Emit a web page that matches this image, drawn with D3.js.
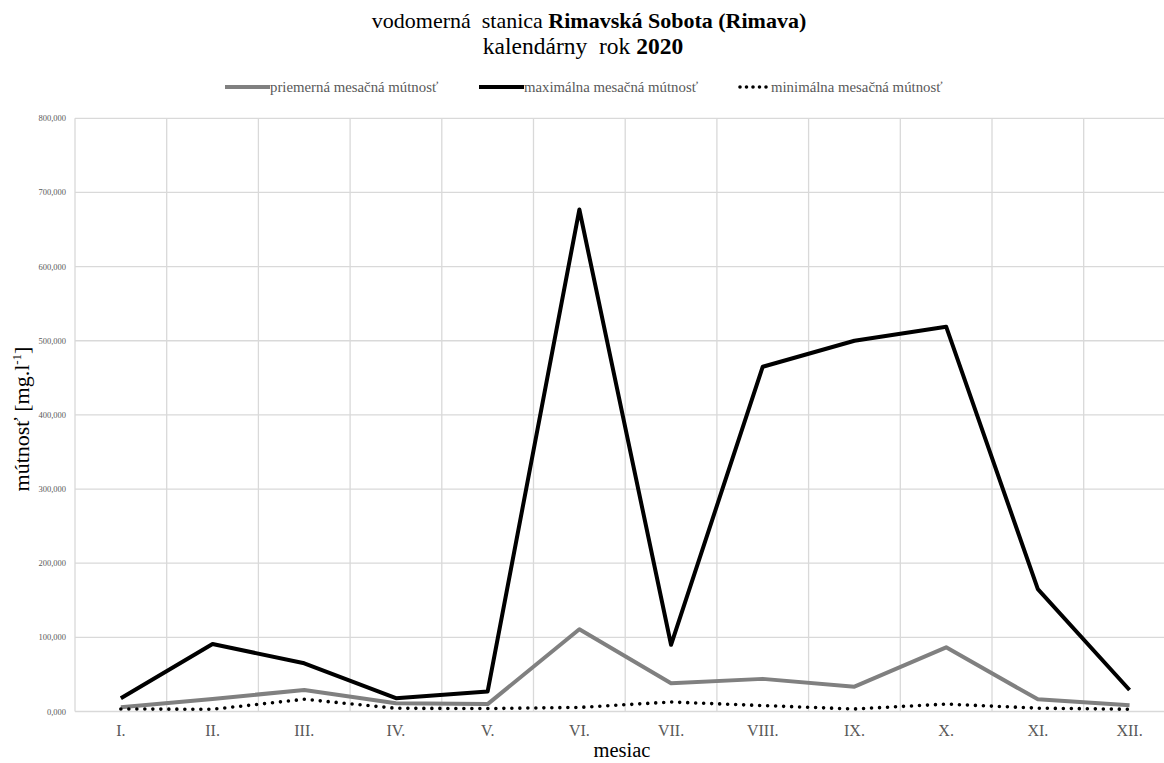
<!DOCTYPE html>
<html><head><meta charset="utf-8">
<script src="https://cdn.jsdelivr.net/npm/d3@7"></script>
<style>body{margin:0;background:#fff}svg{display:block}</style>
</head><body>
<svg id="c" width="1164" height="763"></svg>
<script>
const months = ["I.","II.","III.","IV.","V.","VI.","VII.","VIII.","IX.","X.","XI.","XII."];
const avgValues = [5.6, 17, 29, 11, 10, 111, 38, 44, 33.5, 86.5, 16.4, 8.4];
const maxValues = [18, 91, 65, 18, 27, 677, 90, 465, 500, 519, 165, 29];
const minValues = [3.4, 3, 16.5, 4.3, 4, 5.5, 12.8, 8, 3.4, 10, 4.5, 3];
const yTicks = [0, 100, 200, 300, 400, 500, 600, 700, 800];
const seriesNames = ["priemerná mesačná mútnosť", "maximálna mesačná mútnosť", "minimálna mesačná mútnosť"];

(function(){
const svg = d3.select("#c");
const serif = "'Liberation Serif','Times New Roman',serif";
const pLeft = 75, bandW = 91.7, pTop = 118.3, pBottom = 711.5;
const x = d3.scaleBand().domain(months).range([pLeft, pLeft + bandW * months.length]);
const y = d3.scaleLinear().domain([0, 800]).range([pBottom, pTop]);

// grid
const g = svg.append("g");
g.selectAll("line.h").data(yTicks).join("line")
  .attr("x1", pLeft).attr("x2", 1164).attr("y1", d => y(d)).attr("y2", d => y(d))
  .attr("stroke", "#d9d9d9").attr("stroke-width", 1.3);
const vb = months.map(m => x(m)).concat([x(months[months.length-1]) + x.bandwidth()]);
g.selectAll("line.v").data(vb).join("line")
  .attr("x1", d => d).attr("x2", d => d).attr("y1", pTop).attr("y2", pBottom)
  .attr("stroke", "#d9d9d9").attr("stroke-width", 1.3);

// y tick labels
const fmt = v => d3.format(".3f")(v).replace(".", ",");
svg.append("g").selectAll("text").data(yTicks).join("text")
  .attr("x", 66).attr("y", d => y(d) + 3)
  .attr("text-anchor", "end").attr("font-family", serif).attr("font-size", 8.5)
  .attr("fill", "#595959").text(d => fmt(d));

// x tick labels
svg.append("g").selectAll("text").data(months).join("text")
  .attr("x", d => x(d) + x.bandwidth()/2).attr("y", 736)
  .attr("text-anchor", "middle").attr("font-family", serif).attr("font-size", 16)
  .attr("fill", "#595959").text(d => d);

// lines
const line = d3.line().x((d, i) => x(months[i]) + x.bandwidth()/2).y(d => y(d));
svg.append("path").attr("d", line(avgValues)).attr("fill", "none")
  .attr("stroke", "#808080").attr("stroke-width", 4).attr("stroke-linejoin", "round");
svg.append("path").attr("d", line(maxValues)).attr("fill", "none")
  .attr("stroke", "#000").attr("stroke-width", 4).attr("stroke-linejoin", "round");
svg.append("path").attr("d", line(minValues)).attr("fill", "none")
  .attr("stroke", "#000").attr("stroke-width", 3.6).attr("stroke-linecap", "round")
  .attr("stroke-dasharray", "0 8");

// title
const t1 = svg.append("text").attr("x", 589).attr("y", 28).attr("text-anchor", "middle")
  .attr("font-family", serif).attr("font-size", 22).attr("fill", "#000").style("white-space","pre");
t1.append("tspan").text("vodomerná  stanica ");
t1.append("tspan").attr("font-weight", "bold").text("Rimavská Sobota (Rimava)");
const t2 = svg.append("text").attr("x", 583).attr("y", 54).attr("text-anchor", "middle")
  .attr("font-family", serif).attr("font-size", 23.5).attr("fill", "#000").style("white-space","pre");
t2.append("tspan").text("kalendárny  rok ");
t2.append("tspan").attr("font-weight", "bold").text("2020");

// legend
const legX = [225, 479, 738];
const legStyles = [
  {stroke: "#808080", dash: null, cap: "butt", w: 4},
  {stroke: "#000", dash: null, cap: "butt", w: 4},
  {stroke: "#000", dash: "0 6.5", cap: "round", w: 3.6}
];
const leg = svg.append("g");
seriesNames.forEach((n, i) => {
  leg.append("line").attr("x1", legX[i] + (i === 2 ? 2 : 0)).attr("x2", legX[i] + (i === 2 ? 30 : 45))
    .attr("y1", 87).attr("y2", 87)
    .attr("stroke", legStyles[i].stroke).attr("stroke-width", legStyles[i].w)
    .attr("stroke-linecap", legStyles[i].cap).attr("stroke-dasharray", legStyles[i].dash);
  leg.append("text").attr("x", legX[i] + (i === 2 ? 33 : 45)).attr("y", 92)
    .attr("font-family", serif).attr("font-size", 14.8).attr("fill", "#595959").text(n);
});

// axis titles
svg.append("text").attr("x", 622).attr("y", 757).attr("text-anchor", "middle")
  .attr("font-family", serif).attr("font-size", 20.5).attr("fill", "#000").text("mesiac");
const yt = svg.append("text").attr("transform", "translate(29,419) rotate(-90)")
  .attr("text-anchor", "middle").attr("font-family", serif).attr("font-size", 22).attr("fill", "#000");
yt.append("tspan").text("mútnosť [mg.l");
yt.append("tspan").attr("font-size", 13).attr("dy", -8).text("-1");
yt.append("tspan").attr("dy", 8).text("]");
})();
</script>
</body></html>
